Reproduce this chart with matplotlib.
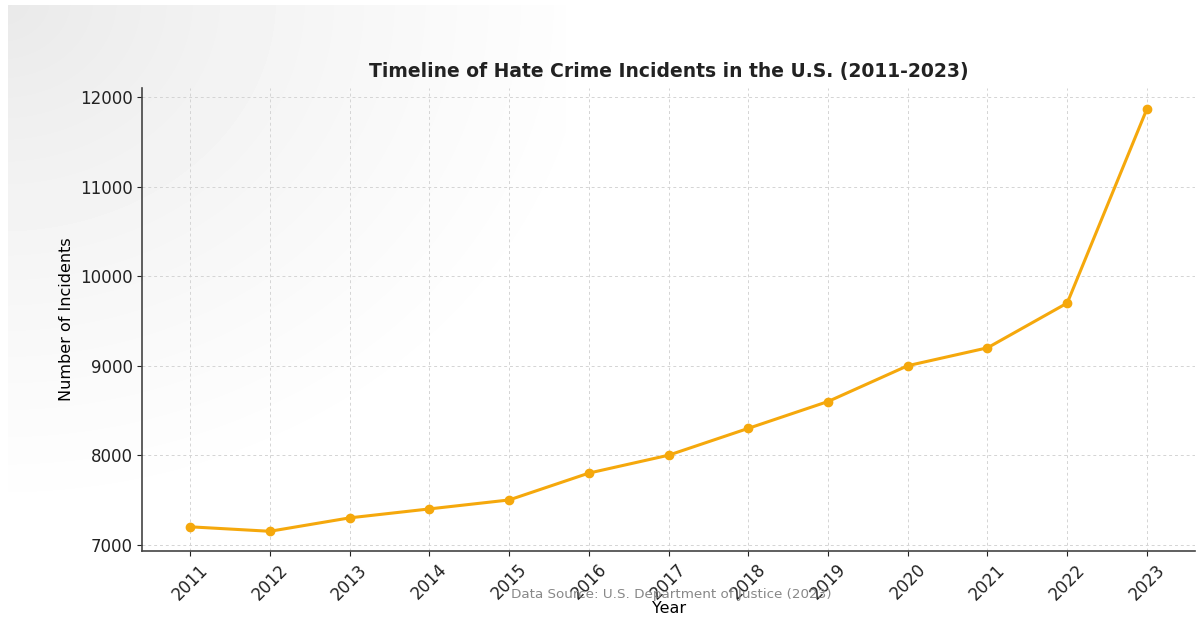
import numpy as np
import matplotlib.pyplot as plt

# Hate crime incidents by year
years = [2011, 2012, 2013, 2014, 2015, 2016, 2017, 2018, 2019, 2020, 2021, 2022, 2023]
incidents = [7200, 7150, 7300, 7400, 7500, 7800, 8000, 8300, 8600, 9000, 9200, 9700, 11870]

fig = plt.figure(figsize=(11.96, 6.17), dpi=100)

# soft grey wash in the top-left corner
bg = fig.add_axes([0, 0, 1, 1], zorder=-1)
h, w = 617, 1196
yy, xx = np.mgrid[0:h, 0:w]
d = np.sqrt((xx / 620.0) ** 2 + (yy / 520.0) ** 2)
shade = 0.91 + 0.09 * np.clip(d, 0, 1) ** 0.8
shade[(xx > 565) | (yy < 5) | (xx < 8)] = 1.0
bg.imshow(shade, cmap="gray", vmin=0, vmax=1, aspect="auto")
bg.axis("off")

ax = fig.add_axes([0.119, 0.107, 0.88, 0.75])
ax.set_facecolor("none")
ax.plot(years, incidents, color="#f5a80c", linewidth=2.2, marker="o", markersize=6)

ax.set_title("Timeline of Hate Crime Incidents in the U.S. (2011-2023)",
             fontsize=13.5, fontweight="bold", color="#222222", pad=8)
ax.set_xlabel("Year", fontsize=11.5, labelpad=-2)
ax.set_ylabel("Number of Incidents", fontsize=11.5)
ax.set_xticks(years)
ax.set_xticklabels([str(y) for y in years], rotation=45, fontsize=12)
ax.tick_params(axis="y", labelsize=12)
ax.tick_params(colors="#222222")
ax.set_yticks([7000, 8000, 9000, 10000, 11000, 12000])
ax.set_ylim(6930, 12100)

ax.grid(True, linestyle=(0, (3, 3)), color="#d4d4d4", linewidth=0.7)
ax.spines["top"].set_visible(False)
ax.spines["right"].set_visible(False)
ax.spines["left"].set_color("#444444")
ax.spines["bottom"].set_color("#444444")
ax.spines["left"].set_linewidth(1.2)
ax.spines["bottom"].set_linewidth(1.2)

fig.text(0.561, 0.037, "Data Source: U.S. Department of Justice (2023)",
         ha="center", va="center", fontsize=9.7, color="#888888")

fig.savefig("out.png", dpi=100)
